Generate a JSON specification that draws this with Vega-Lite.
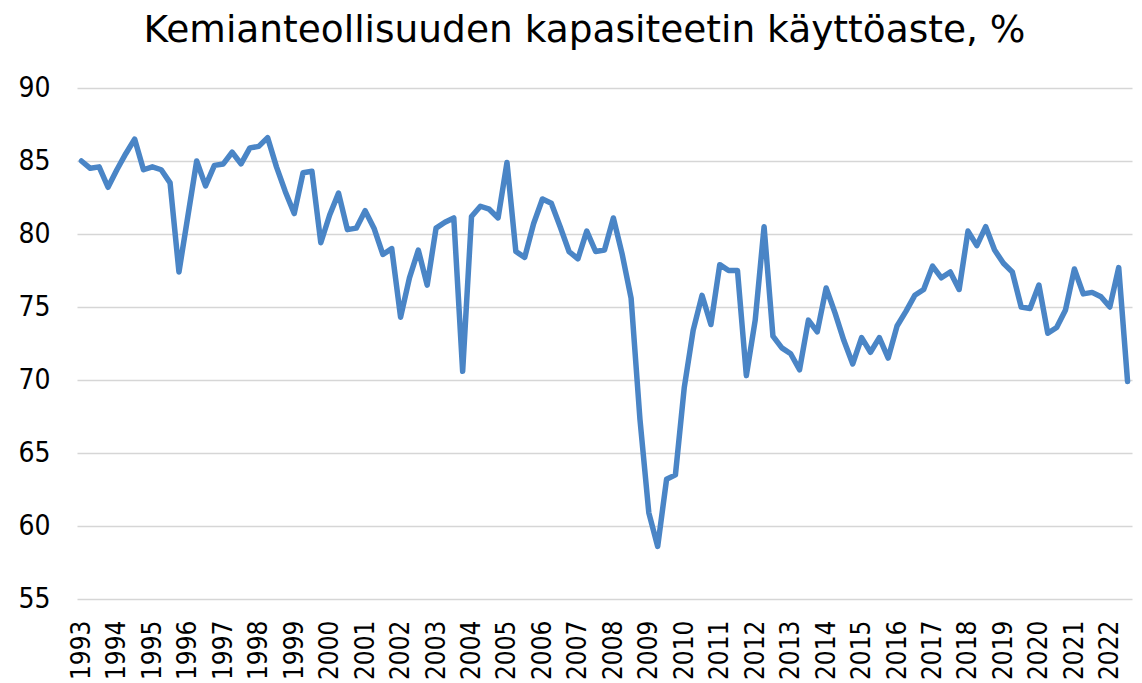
{
  "$schema": "https://vega.github.io/schema/vega-lite/v6.json",
  "autosize": {"type": "none"},
  "padding": {"left": 77, "top": 88, "right": 10, "bottom": 84},
  "width": 1055,
  "height": 511,
  "background": "white",
  "title": {
    "text": "Kemianteollisuuden kapasiteetin käyttöaste, %",
    "font": "DejaVu Sans",
    "fontSize": 37.5,
    "fontWeight": "normal",
    "color": "#000000",
    "anchor": "middle",
    "frame": "group",
    "baseline": "alphabetic",
    "offset": 30,
    "dx": -20,
    "dy": 35
  },
  "data": {
    "values": [
      {"t": 1993.0, "v": 85.0}, {"t": 1993.25, "v": 84.5}, {"t": 1993.5, "v": 84.6}, {"t": 1993.75, "v": 83.2},
      {"t": 1994.0, "v": 84.4}, {"t": 1994.25, "v": 85.5}, {"t": 1994.5, "v": 86.5}, {"t": 1994.75, "v": 84.4},
      {"t": 1995.0, "v": 84.6}, {"t": 1995.25, "v": 84.4}, {"t": 1995.5, "v": 83.5}, {"t": 1995.75, "v": 77.4},
      {"t": 1996.0, "v": 81.2}, {"t": 1996.25, "v": 85.0}, {"t": 1996.5, "v": 83.3}, {"t": 1996.75, "v": 84.7},
      {"t": 1997.0, "v": 84.8}, {"t": 1997.25, "v": 85.6}, {"t": 1997.5, "v": 84.8}, {"t": 1997.75, "v": 85.9},
      {"t": 1998.0, "v": 86.0}, {"t": 1998.25, "v": 86.6}, {"t": 1998.5, "v": 84.6}, {"t": 1998.75, "v": 82.9},
      {"t": 1999.0, "v": 81.4}, {"t": 1999.25, "v": 84.2}, {"t": 1999.5, "v": 84.3}, {"t": 1999.75, "v": 79.4},
      {"t": 2000.0, "v": 81.3}, {"t": 2000.25, "v": 82.8}, {"t": 2000.5, "v": 80.3}, {"t": 2000.75, "v": 80.4},
      {"t": 2001.0, "v": 81.6}, {"t": 2001.25, "v": 80.4}, {"t": 2001.5, "v": 78.6}, {"t": 2001.75, "v": 79.0},
      {"t": 2002.0, "v": 74.3}, {"t": 2002.25, "v": 77.0}, {"t": 2002.5, "v": 78.9}, {"t": 2002.75, "v": 76.5},
      {"t": 2003.0, "v": 80.4}, {"t": 2003.25, "v": 80.8}, {"t": 2003.5, "v": 81.1}, {"t": 2003.75, "v": 70.6},
      {"t": 2004.0, "v": 81.2}, {"t": 2004.25, "v": 81.9}, {"t": 2004.5, "v": 81.7}, {"t": 2004.75, "v": 81.1},
      {"t": 2005.0, "v": 84.9}, {"t": 2005.25, "v": 78.8}, {"t": 2005.5, "v": 78.4}, {"t": 2005.75, "v": 80.7},
      {"t": 2006.0, "v": 82.4}, {"t": 2006.25, "v": 82.1}, {"t": 2006.5, "v": 80.5}, {"t": 2006.75, "v": 78.8},
      {"t": 2007.0, "v": 78.3}, {"t": 2007.25, "v": 80.2}, {"t": 2007.5, "v": 78.8}, {"t": 2007.75, "v": 78.9},
      {"t": 2008.0, "v": 81.1}, {"t": 2008.25, "v": 78.6}, {"t": 2008.5, "v": 75.6}, {"t": 2008.75, "v": 67.3},
      {"t": 2009.0, "v": 60.9}, {"t": 2009.25, "v": 58.6}, {"t": 2009.5, "v": 63.2}, {"t": 2009.75, "v": 63.5},
      {"t": 2010.0, "v": 69.5}, {"t": 2010.25, "v": 73.4}, {"t": 2010.5, "v": 75.8}, {"t": 2010.75, "v": 73.8},
      {"t": 2011.0, "v": 77.9}, {"t": 2011.25, "v": 77.5}, {"t": 2011.5, "v": 77.5}, {"t": 2011.75, "v": 70.3},
      {"t": 2012.0, "v": 74.1}, {"t": 2012.25, "v": 80.5}, {"t": 2012.5, "v": 73.0}, {"t": 2012.75, "v": 72.2},
      {"t": 2013.0, "v": 71.8}, {"t": 2013.25, "v": 70.7}, {"t": 2013.5, "v": 74.1}, {"t": 2013.75, "v": 73.3},
      {"t": 2014.0, "v": 76.3}, {"t": 2014.25, "v": 74.6}, {"t": 2014.5, "v": 72.7}, {"t": 2014.75, "v": 71.1},
      {"t": 2015.0, "v": 72.9}, {"t": 2015.25, "v": 71.9}, {"t": 2015.5, "v": 72.9}, {"t": 2015.75, "v": 71.5},
      {"t": 2016.0, "v": 73.7}, {"t": 2016.25, "v": 74.7}, {"t": 2016.5, "v": 75.8}, {"t": 2016.75, "v": 76.2},
      {"t": 2017.0, "v": 77.8}, {"t": 2017.25, "v": 77.0}, {"t": 2017.5, "v": 77.4}, {"t": 2017.75, "v": 76.2},
      {"t": 2018.0, "v": 80.2}, {"t": 2018.25, "v": 79.2}, {"t": 2018.5, "v": 80.5}, {"t": 2018.75, "v": 78.9},
      {"t": 2019.0, "v": 78.0}, {"t": 2019.25, "v": 77.4}, {"t": 2019.5, "v": 75.0}, {"t": 2019.75, "v": 74.9},
      {"t": 2020.0, "v": 76.5}, {"t": 2020.25, "v": 73.2}, {"t": 2020.5, "v": 73.6}, {"t": 2020.75, "v": 74.8},
      {"t": 2021.0, "v": 77.6}, {"t": 2021.25, "v": 75.9}, {"t": 2021.5, "v": 76.0}, {"t": 2021.75, "v": 75.7},
      {"t": 2022.0, "v": 75.0}, {"t": 2022.25, "v": 77.7}, {"t": 2022.5, "v": 69.9}
    ]
  },
  "mark": {"type": "line", "color": "#4a85c6", "strokeWidth": 5.5, "strokeJoin": "round", "strokeCap": "round"},
  "encoding": {
    "x": {
      "field": "t",
      "type": "quantitative",
      "scale": {"domain": [1992.875, 2022.625], "nice": false, "zero": false},
      "axis": {
        "title": null,
        "values": [1993, 1994, 1995, 1996, 1997, 1998, 1999, 2000, 2001, 2002, 2003, 2004, 2005, 2006, 2007, 2008, 2009, 2010, 2011, 2012, 2013, 2014, 2015, 2016, 2017, 2018, 2019, 2020, 2021, 2022],
        "format": "d",
        "labelAngle": 270,
        "labelAlign": "right",
        "labelBaseline": "middle",
        "labelFont": "DejaVu Sans Condensed, DejaVu Sans",
        "labelFontSize": 26,
        "labelColor": "#000000",
        "labelPadding": 21,
        "labelOverlap": false,
        "labelFlush": false,
        "ticks": false,
        "tickSize": 0,
        "domain": false,
        "grid": false
      }
    },
    "y": {
      "field": "v",
      "type": "quantitative",
      "scale": {"domain": [55, 90], "nice": false, "zero": false},
      "axis": {
        "title": null,
        "values": [55, 60, 65, 70, 75, 80, 85, 90],
        "labelFont": "DejaVu Sans Condensed, DejaVu Sans",
        "labelFontSize": 28,
        "labelColor": "#000000",
        "labelPadding": 27,
        "ticks": false,
        "tickSize": 0,
        "domain": false,
        "grid": true,
        "gridColor": "#d6d6d6",
        "gridWidth": 1.5
      }
    }
  },
  "config": {"view": {"stroke": null}}
}
